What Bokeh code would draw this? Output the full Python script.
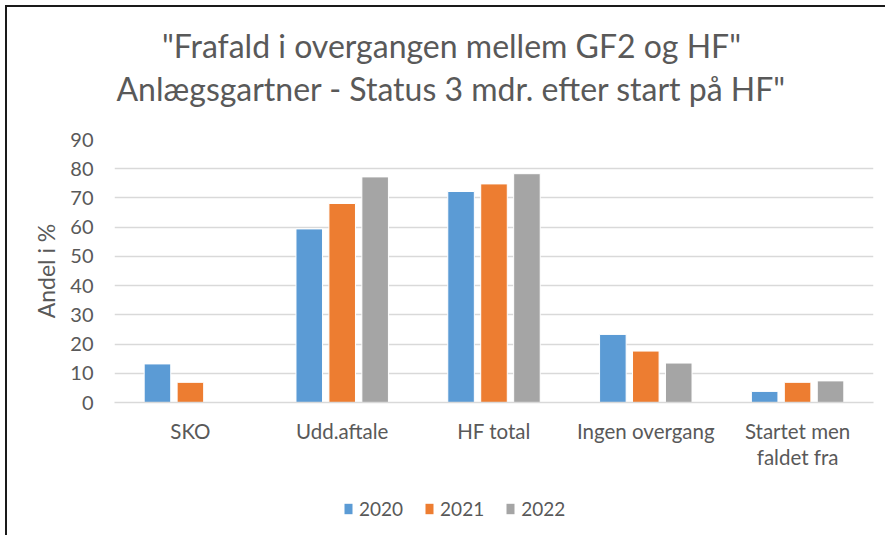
from bokeh.plotting import figure
from bokeh.models import (FactorRange, Range1d, FixedTicker, Legend, LegendItem, Label,
                          ColumnDataSource)
from bokeh.layouts import column
from bokeh.transform import dodge
from bokeh.embed import file_html
from bokeh.resources import INLINE

categories = ["SKO", "Udd.aftale", "HF total", "Ingen overgang", "Startet men\nfaldet fra"]
years = ["2020", "2021", "2022"]
v2020 = [13.2, 59.4, 72.2, 23.3, 3.8]
v2021 = [6.9, 68.1, 74.8, 17.6, 6.9]
v2022 = [0.0, 77.2, 78.3, 13.5, 7.4]
yticks = [0, 10, 20, 30, 40, 50, 60, 70, 80, 90]
title_lines = ['"Frafald i overgangen mellem GF2 og HF"',
               'Anlægsgartner - Status 3 mdr. efter start på HF"']
ylabel = "Andel i %"
colors = ["#5B9BD5", "#ED7D31", "#A5A5A5"]

TXT = "#595959"
FONT = "Lato"
W = 878


def bare(h):
    f = figure(width=W, height=h, output_backend="svg", toolbar_location=None,
               x_axis_location=None, y_axis_location=None,
               x_range=Range1d(0, 1), y_range=Range1d(0, 1),
               min_border_left=0, min_border_right=0, min_border_top=0, min_border_bottom=0)
    f.outline_line_color = None
    f.xgrid.visible = False
    f.ygrid.visible = False
    return f


# ---- title strip ----
pt = bare(118)
for i, line in enumerate(title_lines):
    pt.add_layout(Label(x=337, y=80 - 43 * i, x_units="screen", y_units="screen", text=line,
                        text_align="center", text_baseline="middle", text_font=FONT,
                        text_font_size="32px", text_color=TXT))

# ---- main chart ----
source = ColumnDataSource(dict(cat=categories, y2020=v2020, y2021=v2021, y2022=v2022))
p = figure(x_range=FactorRange(*categories, range_padding=0), y_range=Range1d(0, 90),
           width=W, height=357, output_backend="svg", toolbar_location=None,
           min_border_left=107, min_border_right=12, min_border_top=14, min_border_bottom=80)
p.outline_line_color = None

offsets = [-0.217, 0.0, 0.217]
for yr, col, off in zip(years, colors, offsets):
    p.vbar(x=dodge("cat", off, range=p.x_range), top="y" + yr, width=0.175,
           source=source, fill_color=col, line_color="white", line_width=1)

p.xgrid.grid_line_color = None
p.ygrid.grid_line_color = "#d9d9d9"
p.ygrid.grid_line_width = 1.5
p.ygrid.ticker = FixedTicker(ticks=yticks)

p.yaxis.ticker = FixedTicker(ticks=yticks)
p.yaxis.axis_line_color = None
p.yaxis.major_tick_line_color = None
p.yaxis.minor_tick_line_color = None
p.yaxis.major_tick_out = 0
p.yaxis.major_label_standoff = 21
p.yaxis.major_label_text_font = FONT
p.yaxis.major_label_text_font_size = "20px"
p.yaxis.major_label_text_color = TXT
p.yaxis.axis_label = ylabel
p.yaxis.axis_label_text_font = FONT
p.yaxis.axis_label_text_font_size = "23px"
p.yaxis.axis_label_text_font_style = "normal"
p.yaxis.axis_label_text_color = TXT
p.yaxis.axis_label_standoff = 7

p.xaxis.axis_line_color = "#d9d9d9"
p.xaxis.axis_line_width = 1.5
p.xaxis.major_tick_line_color = None
p.xaxis.minor_tick_line_color = None
p.xaxis.major_tick_out = 0
p.xaxis.major_label_standoff = 16
p.xaxis.major_label_text_font = FONT
p.xaxis.major_label_text_font_size = "20.5px"
p.xaxis.major_label_text_color = TXT
p.xaxis.major_label_text_line_height = 1.12

# ---- legend strip (legend keys only; the key renderers themselves stay hidden) ----
pl = bare(53)
keys = []
for yr, col in zip(years, colors):
    r = pl.vbar(x=[0], top=[0], width=0, fill_color=col, line_color=None, visible=False)
    keys.append(LegendItem(label=yr, renderers=[r]))
legend = Legend(items=keys, orientation="horizontal", location=(229, 15),
                glyph_width=10, glyph_height=13, label_standoff=6, spacing=21,
                padding=0, margin=0, border_line_color=None, background_fill_alpha=0,
                inactive_fill_alpha=0,
                label_text_font=FONT, label_text_font_size="19px", label_text_color=TXT)
pl.add_layout(legend, "center")

layout = column(pt, p, pl, spacing=0)
layout.styles = {"margin-left": "5px", "margin-top": "5px",
                 "border-left": "2px solid #1a1a1a", "border-top": "2px solid #1a1a1a"}

open("out.html", "w").write(file_html(layout, INLINE))
